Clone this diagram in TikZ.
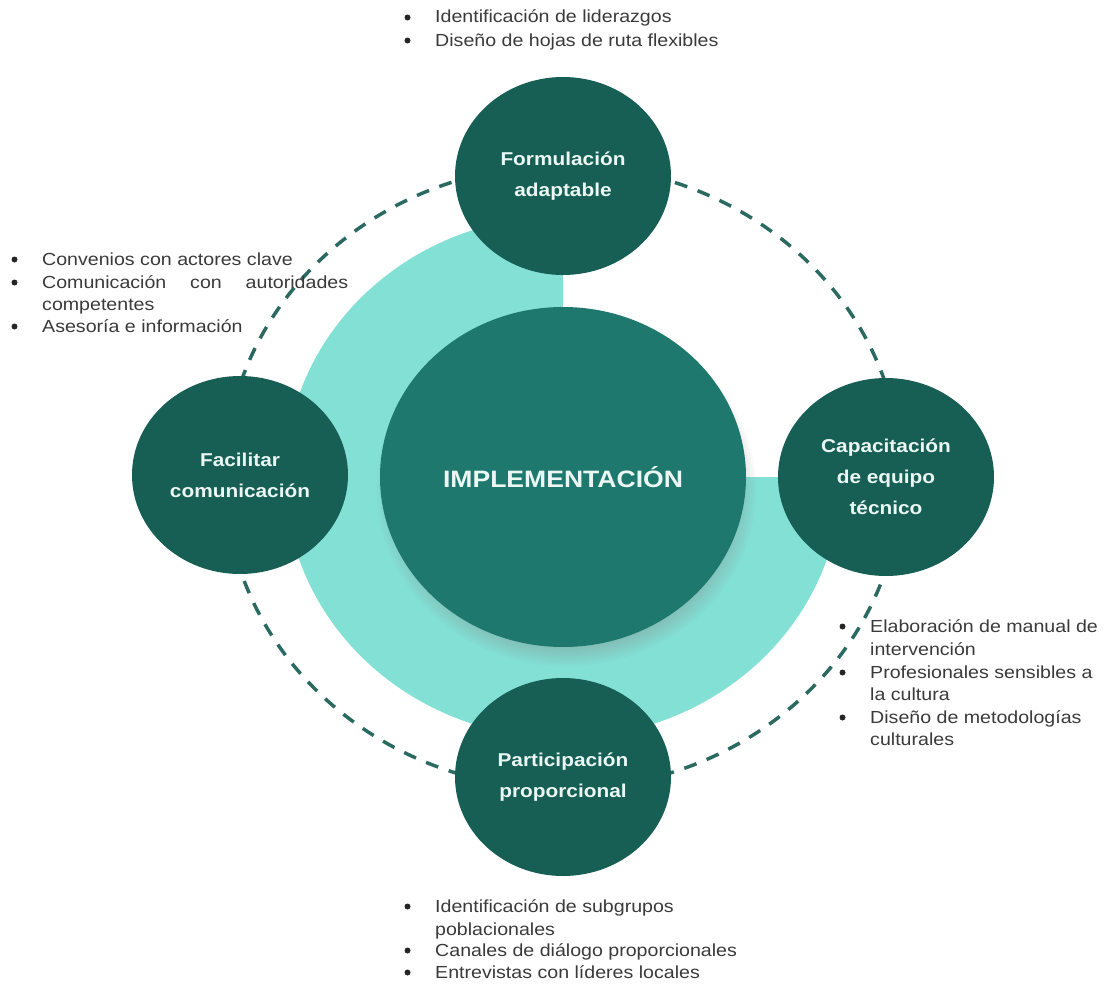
\documentclass[tikz,border=0pt]{standalone}
\usepackage{fontspec}
\setmainfont{Liberation Sans}[FakeStretch=1.12]
\usetikzlibrary{shapes.geometric,shadows,fadings}
\definecolor{dkteal}{HTML}{175E55}
\definecolor{mdteal}{HTML}{1E786E}
\definecolor{ltteal}{HTML}{83E0D5}
\definecolor{dashcol}{HTML}{2B6A61}
\definecolor{lbltxt}{HTML}{EAF7F3}
\definecolor{listtxt}{HTML}{3A3A3A}
\begin{document}
\begin{tikzpicture}[x=1pt,y=1pt,
  sat/.style={ellipse,fill=dkteal,minimum width=216pt,minimum height=198pt,
    inner sep=0pt,text=lbltxt,align=center,
    font=\fontsize{18.6}{31}\selectfont\bfseries},
  hub/.style={ellipse,fill=mdteal,minimum width=366pt,minimum height=340pt,
    inner sep=0pt,text=lbltxt,font=\fontsize{23.7}{28}\selectfont\bfseries,
    circular drop shadow={shadow xshift=3pt,shadow yshift=-12pt,
      shadow scale=1.04,opacity=.45}},
  itm/.style={anchor=base west,inner sep=0pt,text=listtxt,
    font=\fontsize{17.5}{21}\selectfont}]
  \useasboundingbox (0,0) rectangle (1104,-985);
  \def\bl#1#2#3#4{%
    \node[itm] (#1) at (#2,#3) {#4};
    \fill[black!85] ([xshift=-27.5pt,yshift=5.5pt]#1.base west)
      circle[radius=3pt];}
  \def\cl#1#2#3#4{\node[itm] (#1) at (#2,#3) {#4};}
  % ring and dashed orbit
  \fill[ltteal] (563,-477) -- (563,-216)
    arc[start angle=90,end angle=360,x radius=278,y radius=261] -- cycle;
  \draw[dashcol,line width=3.5pt,dash pattern=on 13pt off 11pt]
    (563,-477) ellipse[x radius=338,y radius=312];
  % circles
  \node[hub] (impl) at (563,-477) {IMPLEMENTACIÓN};
  \node[sat] (form) at (563,-176) {Formulación\\adaptable};
  \node[sat] (faci) at (240,-475) {Facilitar\\comunicación};
  \node[sat] (capa) at (886,-477) {Capacitación\\de equipo\\técnico};
  \node[sat] (part) at (563,-777) {Participación\\proporcional};
  % lists
  \bl{fa1}{435}{-23}{Identificación de liderazgos}
  \bl{fa2}{435}{-46}{Diseño de hojas de ruta flexibles}
  \bl{fc1}{42}{-265}{Convenios con actores clave}
  \bl{fc2}{42}{-288}{\makebox[306pt][s]{Comunicación con autoridades}}
  \cl{fc3}{42}{-310}{competentes}
  \bl{fc4}{42}{-332}{Asesoría e información}
  \bl{ce1}{870}{-632}{Elaboración de manual de}
  \cl{ce2}{870}{-655}{intervención}
  \bl{ce3}{870}{-678}{Profesionales sensibles a}
  \cl{ce4}{870}{-700}{la cultura}
  \bl{ce5}{870}{-723}{Diseño de metodologías}
  \cl{ce6}{870}{-745}{culturales}
  \bl{pp1}{435}{-912}{Identificación de subgrupos}
  \cl{pp2}{435}{-935}{poblacionales}
  \bl{pp3}{435}{-956}{Canales de diálogo proporcionales}
  \bl{pp4}{435}{-978}{Entrevistas con líderes locales}
\end{tikzpicture}
\end{document}
